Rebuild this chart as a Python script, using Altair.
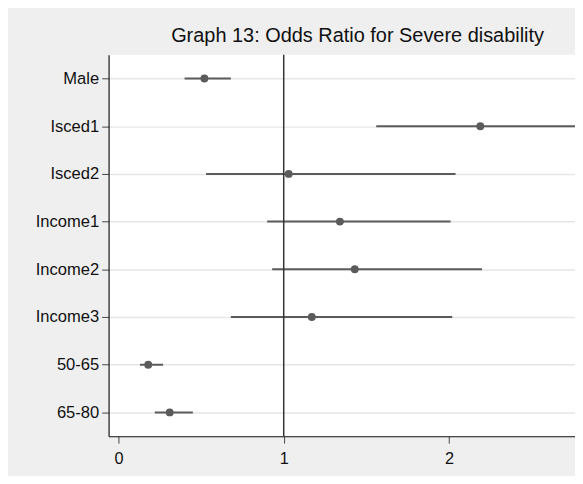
import altair as alt
import pandas as pd

categories = ["Male", "Isced1", "Isced2", "Income1", "Income2", "Income3", "50-65", "65-80"]
odds_ratio = [0.52, 2.19, 1.03, 1.34, 1.43, 1.17, 0.18, 0.31]
ci_low = [0.40, 1.56, 0.53, 0.90, 0.93, 0.68, 0.13, 0.22]
ci_high = [0.68, 3.00, 2.04, 2.01, 2.20, 2.02, 0.27, 0.45]
x_ticks = [0, 1, 2]
ref_value = [1]

df = pd.DataFrame({"cat": categories, "or": odds_ratio, "lo": ci_low, "hi": ci_high})

FONT = "Liberation Sans"
DARK = "#5b5b5b"

xscale = alt.Scale(domain=[-0.06, 2.763], nice=False, zero=False)
yscale = alt.Scale(type="point", padding=0.5)

xaxis = alt.Axis(values=x_ticks, title=None, grid=False, tickSize=7, tickColor="#444",
                 domainColor="#111", domainWidth=1.2, labelFontSize=16.5, labelFont=FONT,
                 labelColor="#111", labelPadding=8, format="d")
yaxis = alt.Axis(title=None, grid=True, gridColor="#e6e6e6", gridWidth=1.5, tickSize=7,
                 tickColor="#444", domainColor="#111", domainWidth=1.2, labelFontSize=16.8,
                 labelFont=FONT, labelColor="#111", labelPadding=3)

base = alt.Chart(df)

rules = base.mark_rule(color=DARK, strokeWidth=2, clip=True).encode(
    x=alt.X("lo:Q", scale=xscale, axis=xaxis),
    x2="hi:Q",
    y=alt.Y("cat:N", sort=categories, scale=yscale, axis=yaxis),
)

vline = alt.Chart(pd.DataFrame({"x": ref_value})).mark_rule(color="#333", strokeWidth=1.5).encode(
    x=alt.X("x:Q", scale=xscale)
)

points = base.mark_circle(size=64, color=DARK, opacity=1).encode(
    x=alt.X("or:Q", scale=xscale),
    y=alt.Y("cat:N", sort=categories, scale=yscale),
)

chart = alt.layer(rules, vline, points).properties(
    width=473,
    height=387,
    autosize=alt.AutoSizeParams(type="none"),
    padding={"left": 102, "top": 44, "right": 0, "bottom": 37},
    title=alt.TitleParams(
        "Graph 13: Odds Ratio for Severe disability",
        font=FONT, fontSize=20.2, fontWeight="normal", color="#111",
        anchor="middle", dx=16, dy=19, offset=7, baseline="bottom",
    ),
).configure(background="#efefef").configure_view(stroke=None, fill="white")

chart.save("out.html", embed_options={"renderer": "svg", "actions": False})
